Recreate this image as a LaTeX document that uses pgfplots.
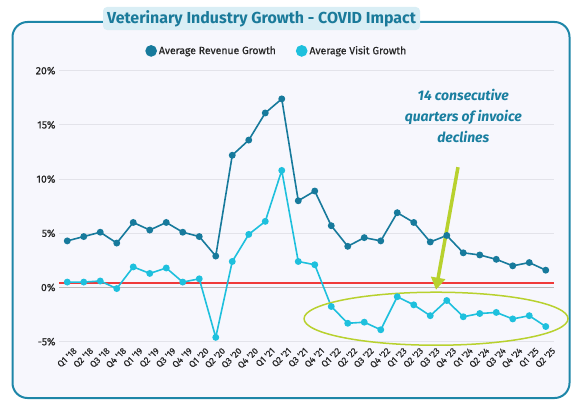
\documentclass[border=0pt]{standalone}
\usepackage{pgfplots}
\pgfplotsset{compat=1.18}
\usetikzlibrary{arrows.meta}
\usepackage{fontspec}
\setmainfont{Fira Sans}
\newfontfamily\medfont[FakeBold=0.5]{Fira Sans}
\definecolor{rev}{HTML}{177A9C}
\definecolor{vis}{HTML}{1EC0DD}
\definecolor{framec}{HTML}{1E86A8}
\definecolor{bgc}{HTML}{F7F7FD}
\definecolor{titlebg}{HTML}{D9EEF5}
\definecolor{titlefg}{HTML}{1A7A9A}
\definecolor{limec}{HTML}{B8D12E}
\definecolor{annot}{HTML}{1A7FA0}
\definecolor{refred}{HTML}{F03A3A}
\definecolor{gridc}{HTML}{E3E3EA}
\definecolor{txt}{HTML}{262626}
\begin{document}
\begin{tikzpicture}[x=1bp,y=1bp]
\fill[bgc, rounded corners=15bp] (12.5,1) rectangle (569.5,377);
\draw[framec, line width=2bp, rounded corners=15bp] (12.5,1) rectangle (569.5,377);
\fill[titlebg, rounded corners=4bp] (103,369) rectangle (420,392);
\node[titlefg, font=\fontsize{16}{19}\selectfont\bfseries] at (261.5,380) {Veterinary Industry Growth - COVID Impact};
\begin{axis}[
  at={(59bp,57.3bp)}, anchor=south west, scale only axis,
  width=495bp, height=271bp,
  xmin=-0.5, xmax=29.5, ymin=-5, ymax=20, clip=false,
  axis line style={draw=none}, major tick length=0pt,
  ymajorgrids, grid style={gridc, line width=1bp},
  ytick={-5,0,5,10,15,20},
  /pgf/number format/assume math mode=true,
  yticklabel={\pgfmathprintnumber{\tick}\%},
  yticklabel style={font=\medfont\fontsize{10.5}{12}\selectfont, text=txt},
  xtick={0,...,29},
  xticklabels={Q1 '18,Q2 '18,Q3 '18,Q4 '18,Q1 '19,Q2 '19,Q3 '19,Q4 '19,Q1 '20,Q2 '20,Q3 '20,Q4 '20,Q1 '21,Q2 '21,Q3 '21,Q4 '21,Q1 '22,Q2 '22,Q3 '22,Q4 '22,Q1 '23,Q2 '23,Q3 '23,Q4 '23,Q1 '24,Q2 '24,Q3 '24,Q4 '24,Q1 '25,Q2 '25},
  xticklabel style={font=\medfont\fontsize{9}{10}\selectfont, text=txt, xshift=9bp, yshift=-7bp, rotate=45, anchor=east, inner sep=1bp},
  legend style={at={(0.44,1.073)}, anchor=center, draw=none, fill=none,
    font=\medfont\fontsize{10.5}{12}\selectfont, text=txt, legend columns=2,
    /tikz/every even column/.append style={column sep=18bp}},
  legend image code/.code={\fill (3bp,0bp) circle (5bp);},
]
\addplot[gray!55, line width=1bp, forget plot] coordinates {(-0.5,0) (29.5,0)};
\addplot[refred, line width=1.6bp, forget plot] coordinates {(-0.5,0.4) (29.5,0.4)};
\addplot[rev, line width=1.6bp, mark=*, mark size=2.6bp] coordinates {
(0,4.3) (1,4.7) (2,5.1) (3,4.1) (4,6.0) (5,5.3) (6,6.0) (7,5.1) (8,4.7) (9,2.9)
(10,12.2) (11,13.6) (12,16.1) (13,17.4) (14,8.0) (15,8.9) (16,5.7) (17,3.8) (18,4.6) (19,4.3)
(20,6.9) (21,6.0) (22,4.2) (23,4.8) (24,3.2) (25,3.0) (26,2.6) (27,2.0) (28,2.3) (29,1.6)};
\addlegendentry{Average Revenue Growth}
\addplot[vis, line width=1.6bp, mark=*, mark size=2.6bp] coordinates {
(0,0.5) (1,0.5) (2,0.6) (3,-0.1) (4,1.9) (5,1.3) (6,1.8) (7,0.5) (8,0.8) (9,-4.6)
(10,2.4) (11,4.9) (12,6.1) (13,10.8) (14,2.4) (15,2.1) (16,-1.75) (17,-3.3) (18,-3.2) (19,-3.9)
(20,-0.85) (21,-1.6) (22,-2.6) (23,-1.2) (24,-2.7) (25,-2.4) (26,-2.3) (27,-2.9) (28,-2.6) (29,-3.6)};
\addlegendentry{Average Visit Growth}
\draw[limec, line width=1.5bp] (axis cs:22.35,-2.88) ellipse [x radius=132bp, y radius=26.5bp];
\draw[limec, line width=3.5bp, -{Triangle[width=14bp,length=12bp]}] (axis cs:23.68,11.1) -- (axis cs:22.35,-0.2);
\node[annot, font=\fontsize{14}{21}\selectfont\bfseries\itshape, align=center] at (axis cs:24.0,15.8) {14 consecutive\\quarters of invoice\\declines};
\end{axis}
\pgfresetboundingbox
\path (0,0) rectangle (579,399);
\end{tikzpicture}
\end{document}
